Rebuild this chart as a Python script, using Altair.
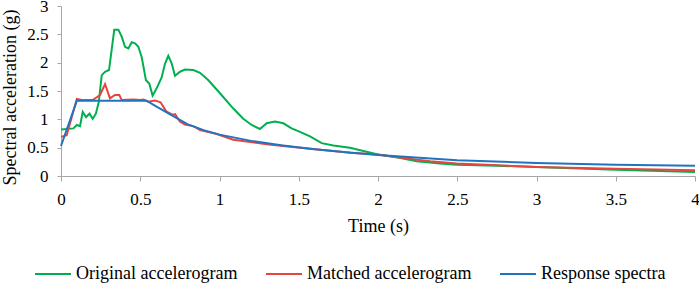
import altair as alt
import pandas as pd

# Original accelerogram
orig_x = [0, 0.078, 0.1, 0.12, 0.137, 0.158, 0.18, 0.2, 0.22, 0.238, 0.257, 0.278, 0.303,
          0.336, 0.362, 0.383, 0.404, 0.425, 0.446, 0.467, 0.488, 0.509, 0.536, 0.557, 0.578,
          0.604, 0.635, 0.656, 0.677, 0.698, 0.719, 0.751, 0.782, 0.835, 0.877, 0.93, 1.003,
          1.087, 1.15, 1.203, 1.255, 1.298, 1.35, 1.403, 1.455, 1.508, 1.571, 1.645, 1.718,
          1.823, 2.0, 2.118, 2.244, 2.39, 2.497, 2.75, 3.0, 3.5, 4.0]
orig_y = [0.82, 0.84, 0.9, 0.88, 1.13, 1.04, 1.1, 1.01, 1.1, 1.3, 1.78, 1.84, 1.87,
          2.58, 2.58, 2.46, 2.28, 2.25, 2.36, 2.34, 2.28, 2.1, 1.69, 1.63, 1.42,
          1.55, 1.74, 1.98, 2.12, 1.99, 1.77, 1.84, 1.88, 1.87, 1.82, 1.69, 1.46,
          1.19, 1.01, 0.9, 0.83, 0.93, 0.96, 0.93, 0.84, 0.78, 0.7, 0.58, 0.54,
          0.5, 0.38, 0.33, 0.26, 0.22, 0.2, 0.18, 0.16, 0.11, 0.07]

# Matched accelerogram
match_x = [0, 0.036, 0.1, 0.13, 0.2, 0.246, 0.278, 0.309, 0.34, 0.368, 0.383, 0.456, 0.5,
           0.52, 0.55, 0.593, 0.628, 0.664, 0.706, 0.72, 0.75, 0.782, 0.835, 0.877, 0.982,
           1.087, 1.298, 1.508, 1.718, 1.823, 2.0, 2.118, 2.33, 2.497, 3.0, 3.5, 4.0]
match_y = [0.69, 0.72, 1.36, 1.34, 1.34, 1.43, 1.62, 1.37, 1.43, 1.43, 1.34, 1.35, 1.34,
           1.35, 1.31, 1.33, 1.3, 1.14, 1.08, 1.09, 0.96, 0.91, 0.88, 0.81, 0.74,
           0.64, 0.56, 0.5, 0.44, 0.41, 0.38, 0.33, 0.26, 0.22, 0.16, 0.13, 0.1]

# Response spectra
resp_x = [0, 0.1, 0.54, 0.6, 0.7, 0.8, 0.9, 1.0, 1.2, 1.4, 1.6, 1.8, 2.0, 2.5, 3.0, 3.5, 4.0]
resp_y = [0.53, 1.33, 1.33, 1.23, 1.07, 0.91, 0.81, 0.73, 0.62, 0.54, 0.47, 0.42, 0.37,
          0.28, 0.23, 0.2, 0.18]

series_names = ["Original accelerogram", "Matched accelerogram", "Response spectra"]
series_colors = ["#00B050", "#E8453F", "#1F74C0"]

rows = []
for name, xs, ys in zip(series_names, [orig_x, match_x, resp_x], [orig_y, match_y, resp_y]):
    for i, (x, y) in enumerate(zip(xs, ys)):
        rows.append({"series": name, "t": x, "sa": y, "i": i})
df = pd.DataFrame(rows)

FONT = "'Liberation Serif', 'Times New Roman', serif"

chart = alt.Chart(df).mark_line(strokeWidth=2).encode(
    x=alt.X("t:Q", title="Time (s)",
            scale=alt.Scale(domain=[0, 4], nice=False, zero=False),
            axis=alt.Axis(values=[0, 0.5, 1, 1.5, 2, 2.5, 3, 3.5, 4], format="~g",
                          grid=False, tickSize=5, labelPadding=23,
                          labelBaseline="alphabetic",
                          titleBaseline="alphabetic", titleY=55, titleX=317,
                          domainColor="#A6A6A6", tickColor="#A6A6A6", labelFlush=False)),
    y=alt.Y("sa:Q", title="Spectral acceleration (g)",
            scale=alt.Scale(domain=[0, 3], nice=False),
            axis=alt.Axis(values=[0, 0.5, 1, 1.5, 2, 2.5, 3], format="~g",
                          grid=False, tickSize=4, labelPadding=9,
                          titleBaseline="alphabetic", titleAngle=270,
                          titleX=-46, titleY=91,
                          domainColor="#A6A6A6", tickColor="#A6A6A6", labelFlush=False)),
    color=alt.Color("series:N",
                    scale=alt.Scale(domain=series_names, range=series_colors),
                    legend=alt.Legend(title=None, orient="none", direction="horizontal",
                                      legendX=-27, legendY=249,
                                      symbolType="stroke", symbolSize=1296,
                                      symbolStrokeWidth=2, labelOffset=4,
                                      labelLimit=400, columnPadding=24)),
    order="i:Q",
).properties(
    width=634, height=170,
    autosize=alt.AutoSizeParams(type="none"),
    padding={"left": 61, "top": 6, "right": 4, "bottom": 107},
).configure(
    font=FONT
).configure_view(
    stroke=None
).configure_axis(
    labelFont=FONT, titleFont=FONT, labelFontSize=17, titleFontSize=18,
    labelColor="#000000", titleColor="#000000", titleFontWeight="normal"
).configure_legend(
    labelFont=FONT, labelFontSize=18, labelColor="#000000"
)

chart.save("out.html", embed_options={"renderer": "svg", "actions": False})
